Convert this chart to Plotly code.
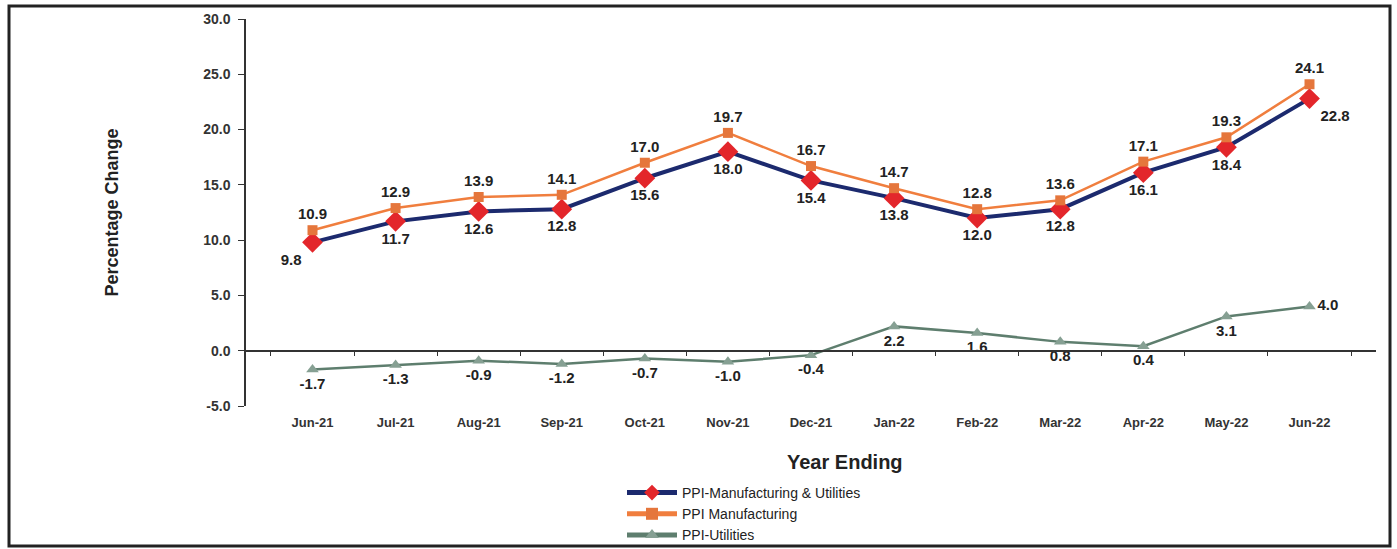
import plotly.graph_objects as go

months = ["Jun-21", "Jul-21", "Aug-21", "Sep-21", "Oct-21", "Nov-21", "Dec-21",
          "Jan-22", "Feb-22", "Mar-22", "Apr-22", "May-22", "Jun-22"]
ppi_mfg_util = [9.8, 11.7, 12.6, 12.8, 15.6, 18.0, 15.4, 13.8, 12.0, 12.8, 16.1, 18.4, 22.8]
ppi_mfg = [10.9, 12.9, 13.9, 14.1, 17.0, 19.7, 16.7, 14.7, 12.8, 13.6, 17.1, 19.3, 24.1]
ppi_util = [-1.7, -1.3, -0.9, -1.2, -0.7, -1.0, -0.4, 2.2, 1.6, 0.8, 0.4, 3.1, 4.0]
y_ticks = [-5, 0, 5, 10, 15, 20, 25, 30]
y_tick_labels = ["-5.0", "0.0", "5.0", "10.0", "15.0", "20.0", "25.0", "30.0"]

W, H = 1397, 549
L, R, T, B = 246, 21, 19, 143
plot_w = W - L - R
plot_h = H - T - B


def px_x(p):
    return (p - L) / plot_w


def px_y(p):
    return (T + plot_h - p) / plot_h


FONT = "Liberation Sans, Arial, sans-serif"
lab_font = dict(family=FONT, size=15, color="#222222", weight="bold")

fig = go.Figure()

fig.add_trace(go.Scatter(
    x=months, y=ppi_mfg_util, name="PPI-Manufacturing & Utilities",
    mode="lines+markers+text",
    line=dict(color="#1C2A6E", width=4),
    marker=dict(symbol="diamond", size=16, color="#E3262B"),
    text=[f"{v:.1f}" for v in ppi_mfg_util],
    textposition=["bottom left"] + ["bottom center"] * 11 + ["bottom right"],
    textfont=lab_font, cliponaxis=False,
))
fig.add_trace(go.Scatter(
    x=months, y=ppi_mfg, name="PPI Manufacturing",
    mode="lines+markers+text",
    line=dict(color="#F07E3E", width=2.5),
    marker=dict(symbol="square", size=10, color="#E5763C"),
    text=[f"{v:.1f}" for v in ppi_mfg],
    textposition="top center",
    textfont=lab_font, cliponaxis=False,
))
fig.add_trace(go.Scatter(
    x=months, y=ppi_util, name="PPI-Utilities",
    mode="lines+markers+text",
    line=dict(color="#5E7E6E", width=2.5),
    marker=dict(symbol="triangle-up", size=11, color="#86A093"),
    text=[f"{v:.1f}" for v in ppi_util],
    textposition=["bottom center"] * 12 + ["middle right"],
    textfont=lab_font, cliponaxis=False,
))
# invisible helper trace so the zero-line category axis is drawn
fig.add_trace(go.Scatter(
    x=months, y=ppi_util, xaxis="x2", mode="lines",
    line=dict(width=0), opacity=0, showlegend=False, hoverinfo="skip",
))

zero_pos = (0 - y_ticks[0]) / (y_ticks[-1] - y_ticks[0])

fig.update_layout(
    width=W, height=H,
    margin=dict(l=L, r=R, t=T, b=B, autoexpand=False),
    paper_bgcolor="white", plot_bgcolor="white",
    showlegend=True,
    legend=dict(
        x=px_x(622), xanchor="left",
        y=px_y(477), yanchor="top",
        font=dict(family=FONT, size=14, color="#222222"),
        tracegroupgap=0, itemwidth=50, itemsizing="constant",
        bgcolor="rgba(0,0,0,0)",
    ),
    xaxis=dict(
        type="category", categoryorder="array", categoryarray=months,
        showline=False, showgrid=False, zeroline=False, ticks="",
        tickfont=dict(family=FONT, size=13, color="#333333", weight="bold"),
        ticklabelstandoff=7,
    ),
    xaxis2=dict(
        type="category", matches="x", overlaying="x", anchor="free",
        position=zero_pos, side="bottom",
        showline=True, linecolor="#333333", linewidth=1.5,
        ticks="outside", tickson="boundaries", ticklen=5, tickcolor="#333333",
        showticklabels=False, showgrid=False, zeroline=False,
    ),
    yaxis=dict(
        range=[y_ticks[0], y_ticks[-1]], tickvals=y_ticks, ticktext=y_tick_labels,
        showline=True, linecolor="#333333", linewidth=1.5,
        ticks="outside", ticklen=6, tickcolor="#333333", ticklabelstandoff=5,
        showgrid=False, zeroline=False,
        tickfont=dict(family=FONT, size=14, color="#333333", weight="bold"),
        title=dict(text="Percentage Change", standoff=80,
                   font=dict(family=FONT, size=18, color="#222222", weight="bold")),
    ),
    annotations=[dict(
        text="Year Ending", xref="paper", yref="paper",
        x=px_x(845), y=px_y(462),
        xanchor="center", yanchor="middle", showarrow=False,
        font=dict(family=FONT, size=20, color="#222222", weight="bold"),
    )],
    shapes=[dict(
        type="rect", xref="paper", yref="paper",
        x0=px_x(9), x1=px_x(1390),
        y0=px_y(546), y1=px_y(6),
        line=dict(color="#222222", width=3), fillcolor="rgba(0,0,0,0)", layer="below",
    )],
)

fig.write_html("out.html", config={"displayModeBar": False},
               post_script="document.body.style.margin='0';")
